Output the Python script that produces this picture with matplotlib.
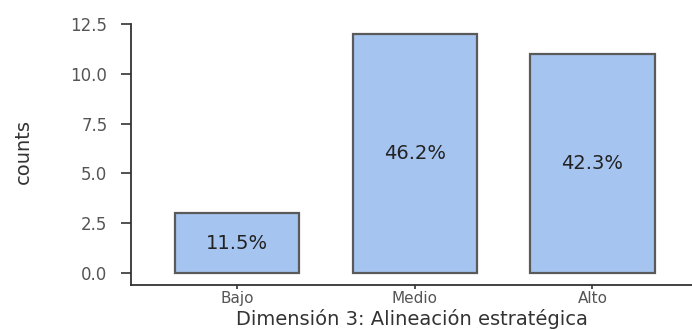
""" Bar chart of Dimension 3 counts. """

import matplotlib
matplotlib.use("Agg")
import matplotlib.pyplot as plt

CATEGORIES = ["Bajo", "Medio", "Alto"]
COUNTS = [3, 12, 11]
PERCENTS = ["11.5%", "46.2%", "42.3%"]
Y_TICKS = [0.0, 2.5, 5.0, 7.5, 10.0, 12.5]


def plot():
    fig = plt.figure(figsize=(6.92, 3.30), dpi=100)
    ax = fig.add_axes([131 / 692, 45 / 330, 1 - 131 / 692, 261 / 330])

    x = list(range(len(CATEGORIES)))
    bars = ax.bar(x, COUNTS, width=0.7, color="#a6c4f0",
                  edgecolor="#5a5a5a", linewidth=1.6, zorder=2)

    for bar, label, count in zip(bars, PERCENTS, COUNTS):
        ax.text(bar.get_x() + bar.get_width() / 2, count / 2, label,
                ha="center", va="center", fontsize=14, color="#222222",
                family="DejaVu Sans")

    ax.set_xlim(-0.597, 2.56)
    ax.set_ylim(-0.6, 12.5)
    ax.set_xticks(x)
    ax.set_xticklabels(CATEGORIES)
    ax.set_yticks(Y_TICKS)
    ax.set_yticklabels(["{0:.1f}".format(v) for v in Y_TICKS])

    for side in ["top", "right"]:
        ax.spines[side].set_visible(False)
    for side in ["left", "bottom"]:
        ax.spines[side].set_color("#333333")
        ax.spines[side].set_linewidth(1.3)

    ax.tick_params(axis="y", length=7, width=1.2, color="#333333",
                   labelsize=12, labelcolor="#555555", pad=10)
    ax.tick_params(axis="x", length=3, width=1.2, color="#333333",
                   labelsize=11, labelcolor="#555555", pad=1.5)

    ax.set_ylabel("counts", fontsize=14, color="#333333",
                  family="Liberation Sans Narrow")
    ax.yaxis.set_label_coords(-0.175, 0.513)
    ax.set_xlabel("Dimensión 3: Alineación estratégica", fontsize=14,
                  color="#333333", labelpad=0)
    ax.xaxis.set_label_coords(0.5, -0.093)

    fig.savefig("out.png", dpi=100)


if __name__ == "__main__":
    plot()
